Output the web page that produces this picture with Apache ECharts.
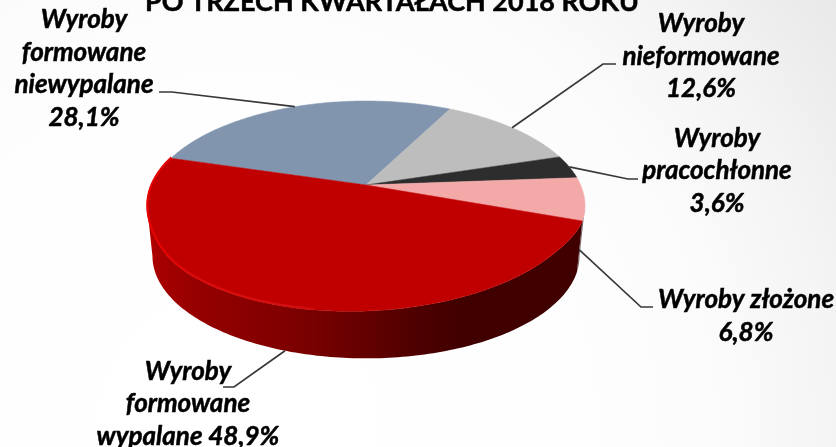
<!DOCTYPE html>
<html><head><meta charset="utf-8">
<style>html,body{margin:0;padding:0;background:#fff}#c{width:836px;height:447px}</style>
<script src="https://cdn.jsdelivr.net/npm/echarts@6/dist/echarts.min.js"></script>
</head><body><div id="c"></div>
<script>
const titleText = 'PO TRZECH KWARTAŁACH 2018 ROKU';
const categories = ['Wyroby formowane niewypalane','Wyroby nieformowane','Wyroby pracochłonne','Wyroby złożone','Wyroby formowane wypalane'];
const values = [28.1,12.6,3.6,6.8,48.9];
const labelTexts = ['Wyroby\nformowane\nniewypalane\n28,1%','Wyroby\nnieformowane\n12,6%','Wyroby\npracochłonne\n3,6%','Wyroby złożone\n6,8%','Wyroby\nformowane\nwypalane 48,9%'];
const colors = ['#8196ae','#bdbdbd','#2d2d2d','#f4a9a9','#c00000'];
// layout (pixels)
const labelPos = [[84,68.5],[701,56.5],[717,171],[746,316],[188,404]];
const leaderBends = [[[172,92],[159,92]],[[603,64],[616,64]],[[628,179],[638,179]],[[641,307],[653,307]],[[234,387],[223,387]]];
const leaderOnWall = [false,false,false,true,true];
const apex=[366,185], A=214.6, B=100.8, K=0.2, DEPTH=50, startAngle=163.7, SHEAR=0.035;
const ecy=206, wallScale=0.975, wallRight=-11.5, wallLeft=-168.5;
const rad=d=>d*Math.PI/180;
function flatPt(a){const u=Math.cos(rad(a)),v=Math.sin(rad(a)),d=1+K*v;return [apex[0]+A*u/d,apex[1]-B*v/d];}
function topPt(a){
  const p=flatPt(a),v=-Math.sin(rad(a));
  const t=Math.min(1,Math.max(0,(v-0.2)/0.5)),w=t*t*(3-2*t);
  return [p[0],p[1]-SHEAR*(p[0]-apex[0])*w];
}
function botPt(a){const p=flatPt(a);return [apex[0]+(p[0]-apex[0])*wallScale,ecy+(p[1]-ecy)*wallScale+DEPTH];}
function arc(fn,a0,a1){const n=Math.max(2,Math.ceil(Math.abs(a1-a0)));const r=[];for(let i=0;i<=n;i++)r.push(fn(a0+(a1-a0)*i/n));return r;}
const total=values.reduce((s,v)=>s+v,0);
function span(i){let s=startAngle;for(let k=0;k<i;k++)s-=values[k]/total*360;return [s,s-values[i]/total*360];}
const G=(x0,x1,stops)=>new echarts.graphic.LinearGradient(x0,0,x1,0,stops.map(s=>({offset:s[0],color:s[1]})),true);
const wallFill=G(147,585,[[0,'#c00000'],[0.02,'#a80000'],[0.12,'#950000'],[0.35,'#7c0000'],[0.5,'#640000'],[0.62,'#4d0000'],[0.72,'#400000'],[1,'#400000']]);
const rimStroke=G(147,400,[[0,'#e60000'],[0.2,'#dc0a0a'],[0.55,'#d41010'],[0.8,'#ca0808'],[1,'#c00000']]);
function renderItem(params,api){
  const i=params.dataIndex;const [a0,a1]=span(i);const ch=[];
  const isRed=i===4;
  const w0=Math.min(a0,wallRight),w1=Math.max(a1,wallLeft);
  if(w0>w1){
    ch.push({type:'polygon',z2:isRed?2:1,shape:{points:arc(topPt,w0,w1).concat(arc(botPt,w1,w0))},style:{fill:isRed?wallFill:'#7a6a6a'}});
  }
  ch.push({type:'polygon',z2:5,shape:{points:[apex].concat(arc(topPt,a0,a1))},style:{fill:colors[i],stroke:colors[i],lineWidth:0.5}});
  if(isRed){
    ch.push({type:'polyline',z2:6,shape:{points:arc(p=>{const q=topPt(p);return [q[0]+0.4,q[1]-0.8];},a1,a1+95)},style:{fill:null,stroke:rimStroke,lineWidth:2.2}});
  }
  const mid=(a0+a1)/2;const s=leaderOnWall[i]?botPt(mid):flatPt(mid);
  ch.push({type:'polyline',z2:7,shape:{points:[s].concat(leaderBends[i])},style:{fill:null,stroke:'#383838',lineWidth:1.7}});
  ch.push({type:'text',z2:10,x:labelPos[i][0],y:labelPos[i][1],style:{text:labelTexts[i],fill:'#000',stroke:'#000',lineWidth:0.5,align:'center',verticalAlign:'middle',font:'italic bold 26px Lato',lineHeight:32.5}});
  return {type:'group',children:ch};
}
const chart=echarts.init(document.getElementById('c'),null,{renderer:'canvas'});
chart.setOption({
  animation:false,
  backgroundColor:{type:'radial',x:0.287,y:0.96,r:1.63,colorStops:[{offset:0,color:'#ffffff'},{offset:0.45,color:'#fefefe'},{offset:0.67,color:'#fbfbfb'},{offset:0.82,color:'#f4f4f4'},{offset:1,color:'#e9e9e9'}]},
  title:{text:titleText,left:387,top:-16,textAlign:'center',textStyle:{fontFamily:'Lato',fontWeight:'bold',fontSize:27,color:'#000',textBorderColor:'#000',textBorderWidth:0.5}},
  series:[{type:'custom',coordinateSystem:'none',silent:true,renderItem,data:values.map((v,i)=>({name:categories[i],value:v}))}]
});
</script></body></html>
